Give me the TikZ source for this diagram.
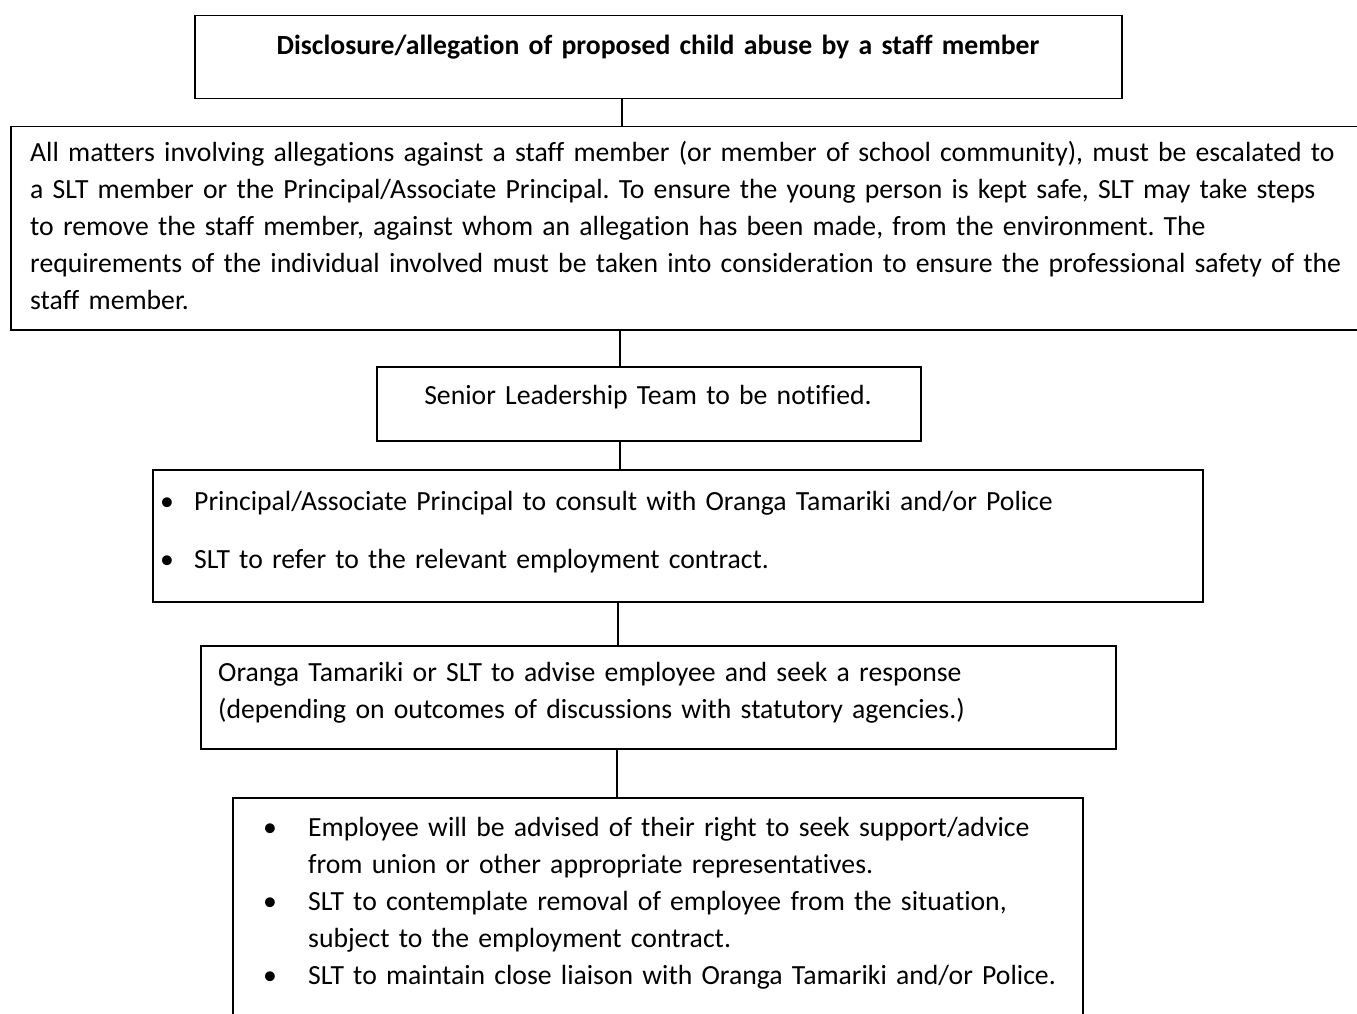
\documentclass[tikz,border=0pt]{standalone}
\usepackage{fontspec}
\setmainfont{Carlito}[Ligatures=NoCommon]
\usetikzlibrary{positioning}
\frenchspacing

\tikzset{
  flowbox/.style={draw, line width=1.5pt, inner sep=0pt, anchor=north west},
  boxtext/.style={anchor=base west, inner sep=0pt, align=left, text width=1330pt,
    font=\fontsize{27.7}{37}\selectfont},
  link/.style={line width=1.5pt}
}

\begin{document}
\begin{tikzpicture}[x=1pt,y=-1pt]
        \useasboundingbox (0,0) rectangle (1357,1014);
        % boxes
        \node[flowbox, minimum width=927pt, minimum height=83pt] (disclosure) at (194,15) {};
        \node[flowbox, minimum width=1370pt, minimum height=203pt] (escalate) at (10,126) {};
        \node[flowbox, minimum width=544pt, minimum height=74pt] (notify) at (376,366) {};
        \node[flowbox, minimum width=1050pt, minimum height=132pt] (consult) at (152,469) {};
        \node[flowbox, minimum width=915pt, minimum height=103pt] (advise) at (200,645) {};
        \node[flowbox, minimum width=850pt, minimum height=240pt] (support) at (232,797) {};
        % texts
        \node[boxtext, anchor=base, text width=900pt, align=center] (disclosuretext) at (658,55)
            {\bfseries Disclosure/allegation of proposed child abuse by a staff member};
        \node[boxtext] (escalatetext) at (30,161) {All matters involving allegations against a staff member (or member of school community), must be escalated to\\
            a SLT member or the Principal/Associate Principal. To ensure the young person is kept safe, SLT may take steps\\
            to remove the staff member, against whom an allegation has been made, from the environment. The\\
            requirements of the individual involved must be taken into consideration to ensure the professional safety of the\\
            staff member.};
        \node[boxtext, anchor=base, text width=540pt, align=center] (notifytext) at (648,404)
            {Senior Leadership Team to be notified.};
        \node[boxtext] (consulttext) at (160,510)
            {\makebox[34pt][l]{•}Principal/Associate Principal to consult with Oranga Tamariki and/or Police\\[21pt]
            \makebox[34pt][l]{•}SLT to refer to the relevant employment contract.};
        \node[boxtext] (advisetext) at (218,681)
            {Oranga Tamariki or SLT to advise employee and seek a response\\
            (depending on outcomes of discussions with statutory agencies.)};
        \node[boxtext] (supporttext) at (263,836)
            {\makebox[45pt][l]{•}Employee will be advised of their right to seek support/advice\\
            \hspace*{45pt}from union or other appropriate representatives.\\
            \makebox[45pt][l]{•}SLT to contemplate removal of employee from the situation,\\
            \hspace*{45pt}subject to the employment contract.\\
            \makebox[45pt][l]{•}SLT to maintain close liaison with Oranga Tamariki and/or Police.};
        % connectors
        \coordinate (l1) at (622,0);
        \coordinate (l2) at (620,0);
        \coordinate (l3) at (620,0);
        \coordinate (l4) at (618,0);
        \coordinate (l5) at (617,0);
        \draw[link] (l1 |- disclosure.south) -- (l1 |- escalate.north);
        \draw[link] (l2 |- escalate.south) -- (l2 |- notify.north);
        \draw[link] (l3 |- notify.south) -- (l3 |- consult.north);
        \draw[link] (l4 |- consult.south) -- (l4 |- advise.north);
        \draw[link] (l5 |- advise.south) -- (l5 |- support.north);
    \end{tikzpicture}
\end{document}
